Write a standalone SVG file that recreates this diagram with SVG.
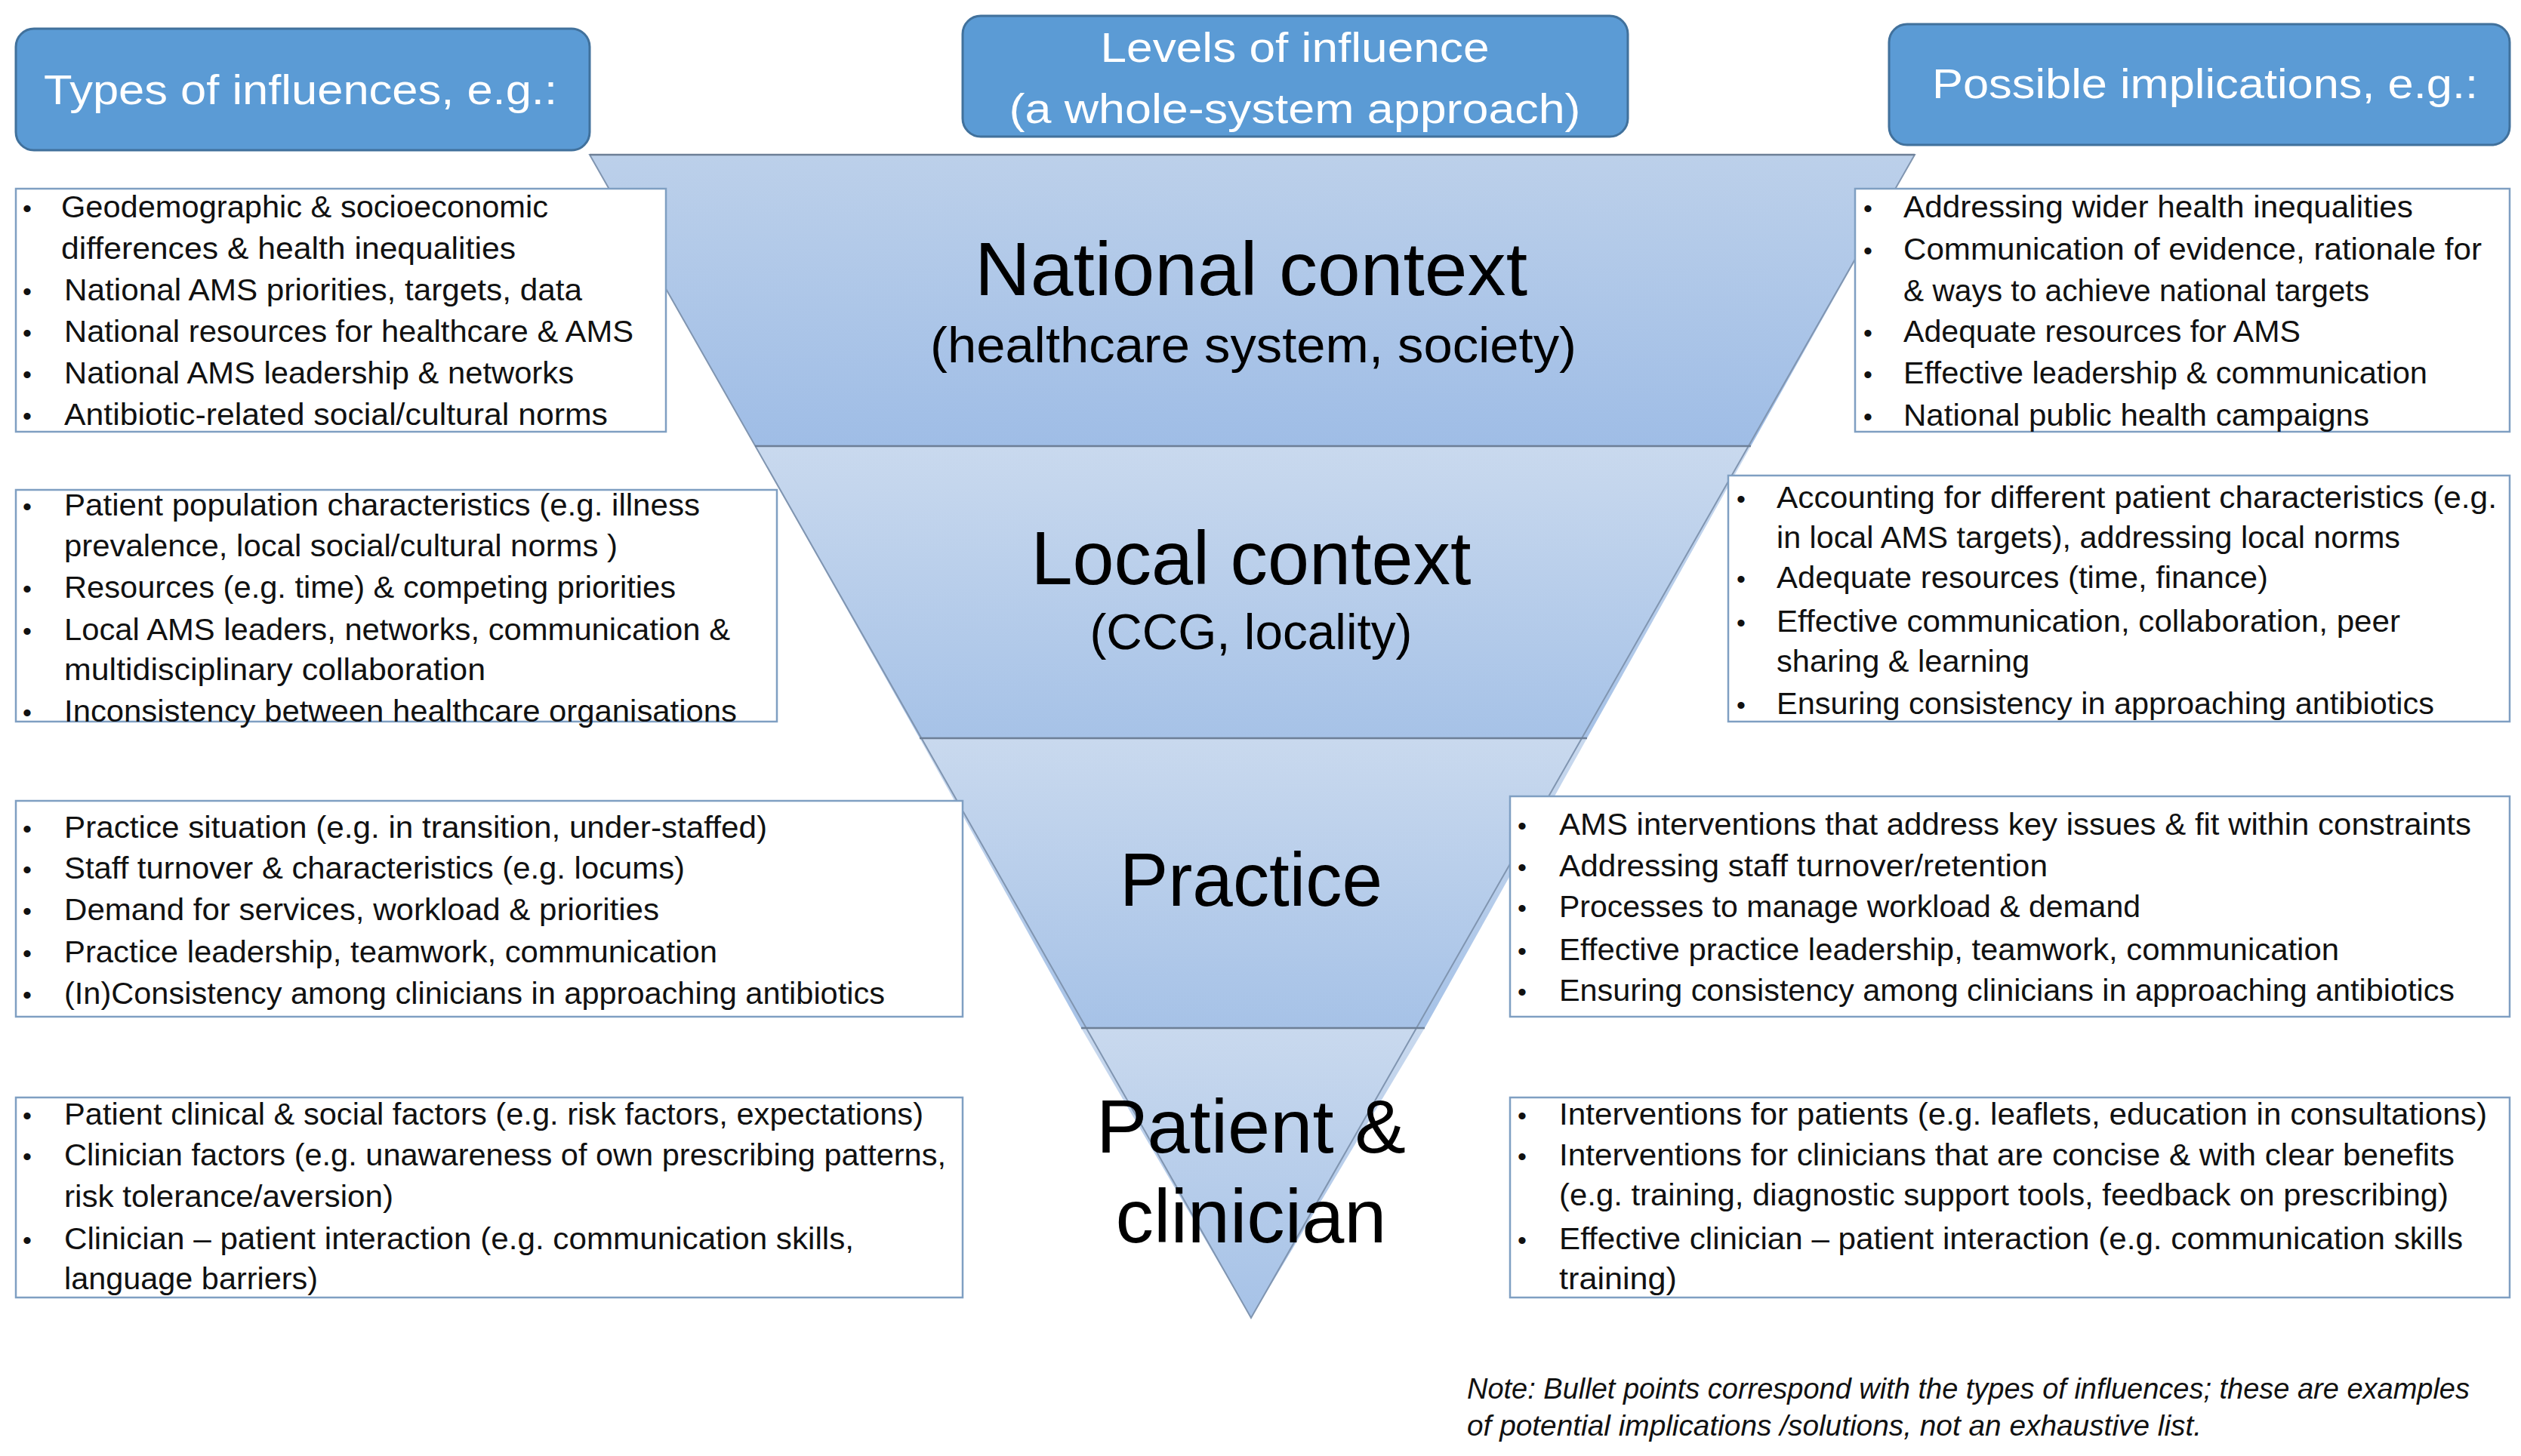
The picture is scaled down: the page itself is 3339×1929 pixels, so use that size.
<svg xmlns="http://www.w3.org/2000/svg" width="3339" height="1929" viewBox="0 0 3339 1929">
<style>
.hdr{fill:#5b9bd5;stroke:#41719c;stroke-width:3}
.ht{fill:#ffffff;font-family:"Liberation Sans",Arial,sans-serif;font-size:56px}
.box{fill:#ffffff;stroke:#7f9fc2;stroke-width:2.5}
.t{fill:#111111;font-family:"Liberation Sans",Arial,sans-serif;font-size:40px}
.b{fill:#111111;font-family:"Liberation Sans",Arial,sans-serif;font-size:34px}
.big{fill:#000000;font-family:"Liberation Sans",Arial,sans-serif;font-size:100px;text-anchor:middle}
.sub{fill:#000000;font-family:"Liberation Sans",Arial,sans-serif;font-size:66px;text-anchor:middle}
.sep{stroke:#6d7f96;stroke-width:2.5}
.note{fill:#111111;font-family:"Liberation Sans",Arial,sans-serif;font-size:38px;font-style:italic}
</style>
<defs>
<linearGradient id="g1" x1="0" y1="0" x2="0" y2="1"><stop offset="0" stop-color="#bcd0ea"/><stop offset="1" stop-color="#9fbde6"/></linearGradient>
<linearGradient id="g2" x1="0" y1="0" x2="0" y2="1"><stop offset="0" stop-color="#c9d9ee"/><stop offset="1" stop-color="#a6c2e7"/></linearGradient>
</defs>
<rect width="3339" height="1929" fill="#ffffff"/>
<g id="levels">
<polygon points="781,205 2536,205 2319,591 1000,591" fill="url(#g1)"/>
<polygon points="1000,591 2319,591 2102,978 1218,978" fill="url(#g2)"/>
<polygon points="1218,978 2102,978 1887,1362 1432,1362" fill="url(#g2)"/>
<polygon points="1432,1362 1887,1362 1657,1746" fill="url(#g2)"/>
<polygon points="781,205 2536,205 1657,1746" fill="none" stroke="#8095b0" stroke-width="2"/>
<line class="sep" x1="781" y1="205" x2="2536" y2="205"/>
<line class="sep" x1="1000" y1="591" x2="2319" y2="591"/>
<line class="sep" x1="1218" y1="978" x2="2102" y2="978"/>
<line class="sep" x1="1432" y1="1362" x2="1887" y2="1362"/>
<text class="big" x="1657" y="391" textLength="732" lengthAdjust="spacingAndGlyphs">National context</text>
<text class="sub" x="1660" y="480" textLength="856" lengthAdjust="spacingAndGlyphs">(healthcare system, society)</text>
<text class="big" x="1657" y="774" textLength="583" lengthAdjust="spacingAndGlyphs">Local context</text>
<text class="sub" x="1657" y="860" textLength="427" lengthAdjust="spacingAndGlyphs">(CCG, locality)</text>
<text class="big" x="1657" y="1200" textLength="348" lengthAdjust="spacingAndGlyphs">Practice</text>
<text class="big" x="1657" y="1527" textLength="410" lengthAdjust="spacingAndGlyphs">Patient &amp;</text>
<text class="big" x="1657" y="1646" textLength="359" lengthAdjust="spacingAndGlyphs">clinician</text>
</g>
<g id="hdr-types">
<rect class="hdr" x="21" y="38" width="760" height="161" rx="24"/>
<text class="ht" x="58" y="138" font-size="60" textLength="680" lengthAdjust="spacingAndGlyphs">Types of influences, e.g.:</text>
</g>
<g id="hdr-levels">
<rect class="hdr" x="1275" y="21" width="881" height="160" rx="24"/>
<text class="ht" x="1715" y="82" text-anchor="middle" textLength="515" lengthAdjust="spacingAndGlyphs">Levels of influence</text>
<text class="ht" x="1715" y="163" text-anchor="middle" textLength="757" lengthAdjust="spacingAndGlyphs">(a whole-system approach)</text>
</g>
<g id="hdr-impl">
<rect class="hdr" x="2502" y="32" width="822" height="160" rx="24"/>
<text class="ht" x="2559" y="130" font-size="60" textLength="723" lengthAdjust="spacingAndGlyphs">Possible implications, e.g.:</text>
</g>
<g id="inf-national">
<rect class="box" x="21" y="250" width="861" height="322"/>
<text class="b" x="30" y="288">•</text><text class="t" x="81" y="288" textLength="645" lengthAdjust="spacingAndGlyphs">Geodemographic  &amp; socioeconomic</text>
<text class="t" x="81" y="343" textLength="602" lengthAdjust="spacingAndGlyphs">differences &amp; health inequalities</text>
<text class="b" x="30" y="398">•</text><text class="t" x="85" y="398" textLength="686" lengthAdjust="spacingAndGlyphs">National AMS priorities, targets, data</text>
<text class="b" x="30" y="453">•</text><text class="t" x="85" y="453" textLength="754" lengthAdjust="spacingAndGlyphs">National resources for healthcare &amp; AMS</text>
<text class="b" x="30" y="508">•</text><text class="t" x="85" y="508" textLength="675" lengthAdjust="spacingAndGlyphs">National AMS  leadership &amp; networks</text>
<text class="b" x="30" y="563">•</text><text class="t" x="85" y="563" textLength="720" lengthAdjust="spacingAndGlyphs">Antibiotic-related social/cultural norms</text>
</g>
<g id="inf-local">
<rect class="box" x="21" y="649" width="1008" height="307"/>
<text class="b" x="30" y="683">•</text><text class="t" x="85" y="683" textLength="842" lengthAdjust="spacingAndGlyphs">Patient population  characteristics (e.g. illness</text>
<text class="t" x="85" y="737" textLength="733" lengthAdjust="spacingAndGlyphs">prevalence, local social/cultural norms )</text>
<text class="b" x="30" y="792">•</text><text class="t" x="85" y="792" textLength="810" lengthAdjust="spacingAndGlyphs">Resources (e.g. time) &amp; competing priorities</text>
<text class="b" x="30" y="848">•</text><text class="t" x="85" y="848" textLength="882" lengthAdjust="spacingAndGlyphs">Local AMS  leaders, networks, communication  &amp;</text>
<text class="t" x="85" y="901" textLength="558" lengthAdjust="spacingAndGlyphs">multidisciplinary collaboration</text>
<text class="b" x="30" y="956">•</text><text class="t" x="85" y="956" textLength="891" lengthAdjust="spacingAndGlyphs">Inconsistency between  healthcare organisations</text>
</g>
<g id="inf-practice">
<rect class="box" x="21" y="1061" width="1254" height="286"/>
<text class="b" x="30" y="1110">•</text><text class="t" x="85" y="1110" textLength="931" lengthAdjust="spacingAndGlyphs">Practice situation (e.g. in transition, under-staffed)</text>
<text class="b" x="30" y="1164">•</text><text class="t" x="85" y="1164" textLength="822" lengthAdjust="spacingAndGlyphs">Staff turnover  &amp; characteristics (e.g. locums)</text>
<text class="b" x="30" y="1219">•</text><text class="t" x="85" y="1219" textLength="788" lengthAdjust="spacingAndGlyphs">Demand  for services, workload &amp; priorities</text>
<text class="b" x="30" y="1275">•</text><text class="t" x="85" y="1275" textLength="865" lengthAdjust="spacingAndGlyphs">Practice leadership, teamwork,  communication</text>
<text class="b" x="30" y="1330">•</text><text class="t" x="85" y="1330" textLength="1087" lengthAdjust="spacingAndGlyphs">(In)Consistency among clinicians in approaching antibiotics</text>
</g>
<g id="inf-patient">
<rect class="box" x="21" y="1454" width="1254" height="265"/>
<text class="b" x="30" y="1490">•</text><text class="t" x="85" y="1490" textLength="1138" lengthAdjust="spacingAndGlyphs">Patient clinical &amp; social factors (e.g. risk factors, expectations)</text>
<text class="b" x="30" y="1544">•</text><text class="t" x="85" y="1544" textLength="1168" lengthAdjust="spacingAndGlyphs">Clinician factors (e.g. unawareness of own prescribing patterns,</text>
<text class="t" x="85" y="1599" textLength="436" lengthAdjust="spacingAndGlyphs">risk tolerance/aversion)</text>
<text class="b" x="30" y="1655">•</text><text class="t" x="85" y="1655" textLength="1046" lengthAdjust="spacingAndGlyphs">Clinician – patient interaction (e.g. communication  skills,</text>
<text class="t" x="85" y="1708" textLength="336" lengthAdjust="spacingAndGlyphs">language barriers)</text>
</g>
<g id="imp-national">
<rect class="box" x="2457" y="250" width="867" height="322"/>
<text class="b" x="2468" y="288">•</text><text class="t" x="2521" y="288" textLength="675" lengthAdjust="spacingAndGlyphs">Addressing wider health inequalities</text>
<text class="b" x="2468" y="344">•</text><text class="t" x="2521" y="344" textLength="766" lengthAdjust="spacingAndGlyphs">Communication  of evidence, rationale for</text>
<text class="t" x="2521" y="399" textLength="617" lengthAdjust="spacingAndGlyphs">&amp; ways to  achieve national targets</text>
<text class="b" x="2468" y="453">•</text><text class="t" x="2521" y="453" textLength="526" lengthAdjust="spacingAndGlyphs">Adequate resources for AMS</text>
<text class="b" x="2468" y="508">•</text><text class="t" x="2521" y="508" textLength="694" lengthAdjust="spacingAndGlyphs">Effective leadership &amp; communication</text>
<text class="b" x="2468" y="564">•</text><text class="t" x="2521" y="564" textLength="617" lengthAdjust="spacingAndGlyphs">National public health campaigns</text>
</g>
<g id="imp-local">
<rect class="box" x="2289" y="630" width="1035" height="326"/>
<text class="b" x="2300" y="673">•</text><text class="t" x="2353" y="673" textLength="954" lengthAdjust="spacingAndGlyphs">Accounting for different patient characteristics (e.g.</text>
<text class="t" x="2353" y="726" textLength="826" lengthAdjust="spacingAndGlyphs">in local AMS targets), addressing local norms</text>
<text class="b" x="2300" y="779">•</text><text class="t" x="2353" y="779" textLength="651" lengthAdjust="spacingAndGlyphs">Adequate resources (time, finance)</text>
<text class="b" x="2300" y="837">•</text><text class="t" x="2353" y="837" textLength="826" lengthAdjust="spacingAndGlyphs">Effective communication, collaboration, peer</text>
<text class="t" x="2353" y="890" textLength="335" lengthAdjust="spacingAndGlyphs">sharing &amp; learning</text>
<text class="b" x="2300" y="946">•</text><text class="t" x="2353" y="946" textLength="871" lengthAdjust="spacingAndGlyphs">Ensuring consistency in approaching antibiotics</text>
</g>
<g id="imp-practice">
<rect class="box" x="2000" y="1055" width="1324" height="292"/>
<text class="b" x="2010" y="1106">•</text><text class="t" x="2065" y="1106" textLength="1208" lengthAdjust="spacingAndGlyphs">AMS interventions  that address key issues &amp; fit within  constraints</text>
<text class="b" x="2010" y="1161">•</text><text class="t" x="2065" y="1161" textLength="647" lengthAdjust="spacingAndGlyphs">Addressing staff turnover/retention</text>
<text class="b" x="2010" y="1215">•</text><text class="t" x="2065" y="1215" textLength="770" lengthAdjust="spacingAndGlyphs">Processes to manage workload  &amp; demand</text>
<text class="b" x="2010" y="1272">•</text><text class="t" x="2065" y="1272" textLength="1033" lengthAdjust="spacingAndGlyphs">Effective practice leadership, teamwork,  communication</text>
<text class="b" x="2010" y="1326">•</text><text class="t" x="2065" y="1326" textLength="1186" lengthAdjust="spacingAndGlyphs">Ensuring consistency among  clinicians in approaching antibiotics</text>
</g>
<g id="imp-patient">
<rect class="box" x="2000" y="1454" width="1324" height="265"/>
<text class="b" x="2010" y="1490">•</text><text class="t" x="2065" y="1490" textLength="1229" lengthAdjust="spacingAndGlyphs">Interventions  for patients (e.g. leaflets, education in consultations)</text>
<text class="b" x="2010" y="1544">•</text><text class="t" x="2065" y="1544" textLength="1186" lengthAdjust="spacingAndGlyphs">Interventions  for clinicians that are concise &amp; with  clear benefits</text>
<text class="t" x="2065" y="1597" textLength="1178" lengthAdjust="spacingAndGlyphs">(e.g. training, diagnostic support tools, feedback on  prescribing)</text>
<text class="b" x="2010" y="1655">•</text><text class="t" x="2065" y="1655" textLength="1197" lengthAdjust="spacingAndGlyphs">Effective clinician – patient interaction (e.g. communication  skills</text>
<text class="t" x="2065" y="1708" textLength="156" lengthAdjust="spacingAndGlyphs">training)</text>
</g>
<g id="note">
<text class="note" x="1943" y="1853" textLength="1328" lengthAdjust="spacingAndGlyphs">Note: Bullet points correspond with the types of influences; these are examples</text>
<text class="note" x="1943" y="1902" textLength="973" lengthAdjust="spacingAndGlyphs">of potential implications /solutions, not an exhaustive list.</text>
</g>
<g id="connectors"></g>
</svg>
